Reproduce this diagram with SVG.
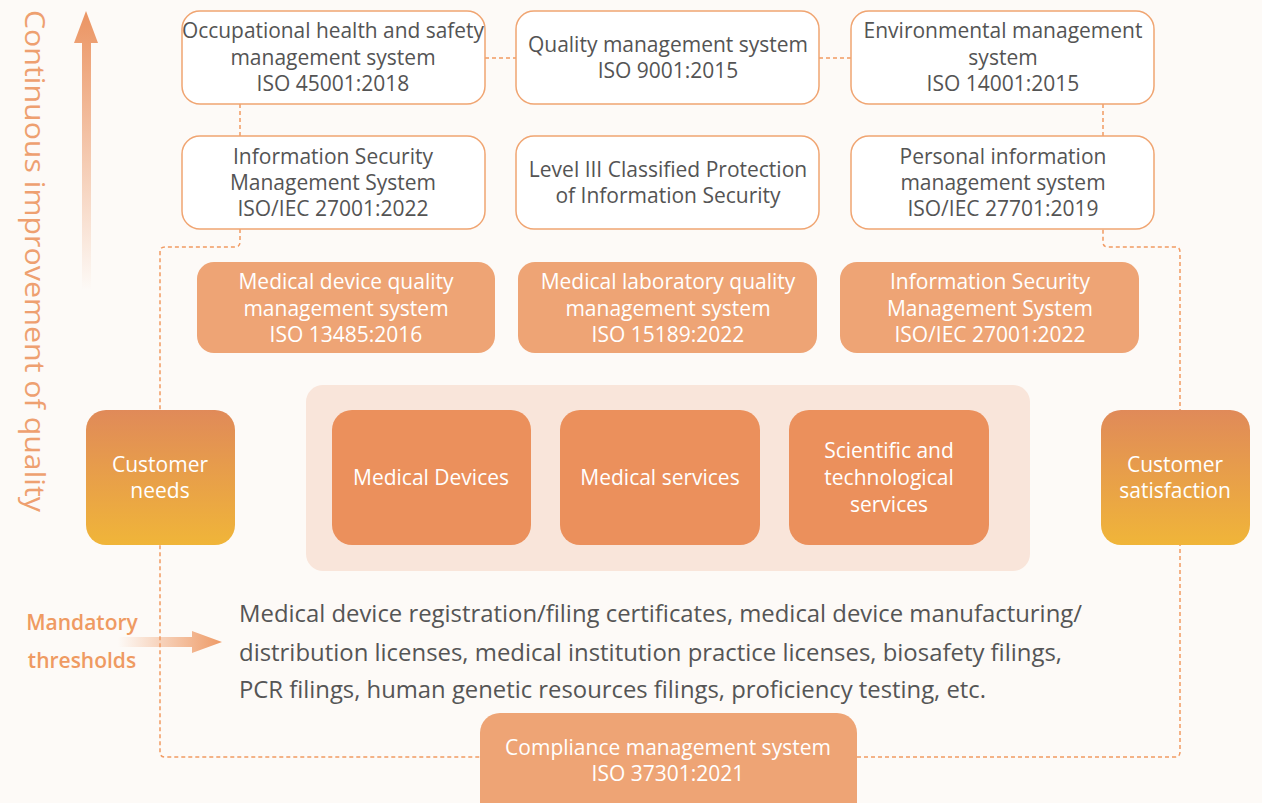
<svg xmlns="http://www.w3.org/2000/svg" width="1262" height="803" viewBox="0 0 1262 803">
<style>
.wb{fill:#ffffff;stroke:#f0a572;stroke-width:1.5}
.ob{fill:#eea475}
.ib{fill:#eb905c}
.t{font-family:"Open Sans","Liberation Sans",sans-serif;font-size:21px;fill:#545454;text-anchor:middle}
.tw{font-family:"Open Sans","Liberation Sans",sans-serif;font-size:21px;fill:#ffffff;text-anchor:middle}
.dash{fill:none;stroke:#f19a62;stroke-width:1.5;stroke-dasharray:4 3}
.para{font-family:"Open Sans","Liberation Sans",sans-serif;font-size:24px;fill:#555555}
.mand{font-family:"Open Sans","Liberation Sans",sans-serif;font-size:21px;font-weight:600;fill:#ef9a62}
</style>
<defs>
<linearGradient id="cg" x1="0" y1="0" x2="0" y2="1">
<stop offset="0" stop-color="#e08a59"/>
<stop offset="1" stop-color="#f0b539"/>
</linearGradient>
<linearGradient id="vg" x1="0" y1="0" x2="0" y2="1">
<stop offset="0" stop-color="#eb9462"/>
<stop offset="1" stop-color="#eb9462" stop-opacity="0"/>
</linearGradient>
<linearGradient id="hg" x1="0" y1="0" x2="1" y2="0">
<stop offset="0" stop-color="#ee9a66" stop-opacity="0"/>
<stop offset="1" stop-color="#ee9a66"/>
</linearGradient>
</defs>
<rect x="0" y="0" width="1262" height="803" fill="#fdfaf7"/>

<g id="quality-axis">
<path d="M82,290 V43 H74 L86,11 L98,43 H91 V290 Z" fill="url(#vg)"/>
<text transform="translate(25,10) rotate(90)" font-family="Open Sans, Liberation Sans, sans-serif" font-size="27" font-weight="500" fill="#eea070" textLength="502" lengthAdjust="spacingAndGlyphs">Continuous improvement of quality</text>
</g>

<g id="connectors">
<path class="dash" d="M485,58 H516"/>
<path class="dash" d="M819,58 H851"/>
<path class="dash" d="M240,104 V136"/>
<path class="dash" d="M1103,104 V136"/>
<path class="dash" d="M240,229 V242 Q240,247 235,247 H165 Q160,247 160,252 V752 Q160,757 165,757 H480"/>
<path class="dash" d="M857,757 H1175 Q1180,757 1180,752 V252 Q1180,247 1175,247 H1108 Q1103,247 1103,242 V229"/>
</g>

<g id="ohs">
<rect class="wb" x="182" y="11" width="303" height="93" rx="18"/>
<text class="t" x="333" y="38" textLength="302" lengthAdjust="spacingAndGlyphs">Occupational health and safety</text>
<text class="t" x="333" y="65">management system</text>
<text class="t" x="333" y="91">ISO 45001:2018</text>
</g>
<g id="qms">
<rect class="wb" x="516" y="11" width="303" height="93" rx="18"/>
<text class="t" x="668" y="52">Quality management system</text>
<text class="t" x="668" y="78">ISO 9001:2015</text>
</g>
<g id="ems">
<rect class="wb" x="851" y="11" width="303" height="93" rx="18"/>
<text class="t" x="1003" y="38">Environmental management</text>
<text class="t" x="1003" y="65">system</text>
<text class="t" x="1003" y="91">ISO 14001:2015</text>
</g>

<g id="isms-top">
<rect class="wb" x="182" y="136" width="303" height="93" rx="18"/>
<text class="t" x="333" y="164">Information Security</text>
<text class="t" x="333" y="190">Management System</text>
<text class="t" x="333" y="216">ISO/IEC 27001:2022</text>
</g>
<g id="level3">
<rect class="wb" x="516" y="136" width="303" height="93" rx="18"/>
<text class="t" x="668" y="177">Level III Classified Protection</text>
<text class="t" x="668" y="203">of Information Security</text>
</g>
<g id="pims">
<rect class="wb" x="851" y="136" width="303" height="93" rx="18"/>
<text class="t" x="1003" y="164">Personal information</text>
<text class="t" x="1003" y="190">management system</text>
<text class="t" x="1003" y="216">ISO/IEC 27701:2019</text>
</g>

<g id="mdqms">
<rect class="ob" x="197" y="262" width="298" height="91" rx="17"/>
<text class="tw" x="346" y="289">Medical device quality</text>
<text class="tw" x="346" y="316">management system</text>
<text class="tw" x="346" y="342">ISO 13485:2016</text>
</g>
<g id="mlqms">
<rect class="ob" x="518" y="262" width="299" height="91" rx="17"/>
<text class="tw" x="668" y="289">Medical laboratory quality</text>
<text class="tw" x="668" y="316">management system</text>
<text class="tw" x="668" y="342">ISO 15189:2022</text>
</g>
<g id="isms-orange">
<rect class="ob" x="840" y="262" width="299" height="91" rx="17"/>
<text class="tw" x="990" y="289">Information Security</text>
<text class="tw" x="990" y="316">Management System</text>
<text class="tw" x="990" y="342">ISO/IEC 27001:2022</text>
</g>

<g id="business-panel">
<rect x="306" y="385" width="724" height="186" rx="17" fill="#f9e5da"/>
</g>
<g id="medical-devices">
<rect class="ib" x="332" y="410" width="199" height="135" rx="20"/>
<text class="tw" x="431" y="485">Medical Devices</text>
</g>
<g id="medical-services">
<rect class="ib" x="560" y="410" width="200" height="135" rx="20"/>
<text class="tw" x="660" y="485">Medical services</text>
</g>
<g id="sci-tech">
<rect class="ib" x="789" y="410" width="200" height="135" rx="20"/>
<text class="tw" x="889" y="458">Scientific and</text>
<text class="tw" x="889" y="485">technological</text>
<text class="tw" x="889" y="512">services</text>
</g>

<g id="customer-needs">
<rect x="86" y="410" width="149" height="135" rx="20" fill="url(#cg)"/>
<text class="tw" x="160" y="472">Customer</text>
<text class="tw" x="160" y="498">needs</text>
</g>
<g id="customer-satisfaction">
<rect x="1101" y="410" width="149" height="135" rx="20" fill="url(#cg)"/>
<text class="tw" x="1175" y="472">Customer</text>
<text class="tw" x="1175" y="498">satisfaction</text>
</g>

<g id="mandatory">
<text class="mand" x="82" y="630" text-anchor="middle">Mandatory</text>
<text class="mand" x="82" y="668" text-anchor="middle">thresholds</text>
<path d="M118,637 H192 V631 L222,642 L192,653 V647 H118 Z" fill="url(#hg)"/>
</g>

<g id="requirements">
<text class="para" x="239" y="622" textLength="843" lengthAdjust="spacingAndGlyphs">Medical device registration/filing certificates, medical device manufacturing/</text>
<text class="para" x="239" y="661" textLength="823" lengthAdjust="spacingAndGlyphs">distribution licenses, medical institution practice licenses, biosafety filings,</text>
<text class="para" x="239" y="698" textLength="747" lengthAdjust="spacingAndGlyphs">PCR filings, human genetic resources filings, proficiency testing, etc.</text>
</g>

<g id="compliance">
<rect class="ob" x="480" y="713" width="377" height="110" rx="20"/>
<text class="tw" x="668" y="755">Compliance management system</text>
<text class="tw" x="668" y="781">ISO 37301:2021</text>
</g>
</svg>
